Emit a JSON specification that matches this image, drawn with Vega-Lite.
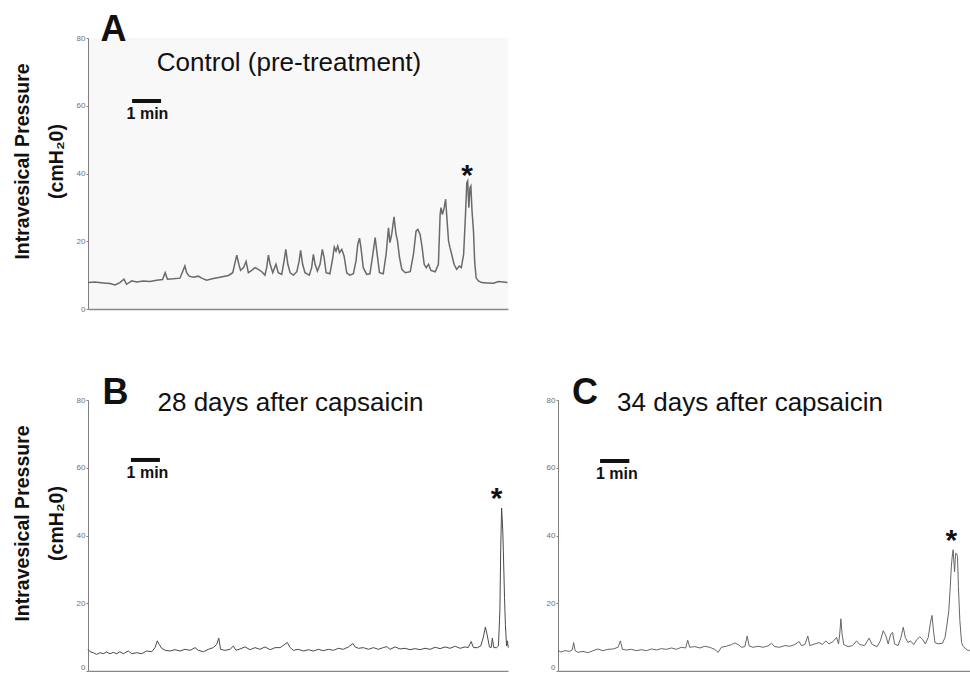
{
  "$schema": "https://vega.github.io/schema/vega-lite/v6.json",
  "padding": {"left": 12, "top": 12, "right": 0, "bottom": 0},
  "background": "white",
  "bounds": "flush",
  "spacing": 91,
  "config": {
    "font": "Liberation Sans",
    "view": {"stroke": null},
    "axis": {"grid": false, "domainColor": "#808080", "tickColor": "#808080", "labelColor": "#707070", "labelFontSize": 8, "labelFont": "Liberation Sans", "tickSize": 2, "labelPadding": 1, "titleFont": "Liberation Sans", "titleFontWeight": "bold", "titleColor": "#111111", "titleFontSize": 19.5},
    "text": {"font": "Liberation Sans", "color": "#111111"}
  },
  "datasets": {
    "traceA": [
      {"t":0.00,"p":7.8},{"t":0.24,"p":8.0},{"t":0.53,"p":7.7},{"t":0.76,"p":7.5},{"t":0.93,"p":7.1},{"t":1.10,"p":7.8},{"t":1.24,"p":8.8},{"t":1.33,"p":7.3},{"t":1.51,"p":8.3},{"t":1.68,"p":8.0},{"t":1.91,"p":8.3},{"t":2.14,"p":8.1},{"t":2.37,"p":8.5},{"t":2.57,"p":8.7},{"t":2.66,"p":10.7},{"t":2.74,"p":8.8},{"t":2.94,"p":8.9},{"t":3.17,"p":9.1},{"t":3.26,"p":11.0},{"t":3.34,"p":12.7},{"t":3.40,"p":10.7},{"t":3.49,"p":9.7},{"t":3.63,"p":9.4},{"t":3.80,"p":9.7},{"t":3.92,"p":9.1},{"t":4.09,"p":8.5},{"t":4.32,"p":9.0},{"t":4.55,"p":9.4},{"t":4.84,"p":9.9},{"t":4.99,"p":10.7},{"t":5.07,"p":13.7},{"t":5.13,"p":15.9},{"t":5.20,"p":13.2},{"t":5.26,"p":11.4},{"t":5.36,"p":12.2},{"t":5.45,"p":14.0},{"t":5.53,"p":10.7},{"t":5.64,"p":11.4},{"t":5.76,"p":12.2},{"t":5.87,"p":11.7},{"t":5.99,"p":11.0},{"t":6.10,"p":10.0},{"t":6.16,"p":12.2},{"t":6.22,"p":15.9},{"t":6.28,"p":13.2},{"t":6.37,"p":10.7},{"t":6.48,"p":13.2},{"t":6.56,"p":10.7},{"t":6.68,"p":10.2},{"t":6.76,"p":14.2},{"t":6.82,"p":17.6},{"t":6.89,"p":13.2},{"t":6.97,"p":10.7},{"t":7.08,"p":10.0},{"t":7.20,"p":11.0},{"t":7.28,"p":14.2},{"t":7.33,"p":17.3},{"t":7.40,"p":13.2},{"t":7.48,"p":10.7},{"t":7.63,"p":10.0},{"t":7.71,"p":12.2},{"t":7.77,"p":16.1},{"t":7.83,"p":13.2},{"t":7.91,"p":11.2},{"t":8.00,"p":13.2},{"t":8.08,"p":17.6},{"t":8.14,"p":15.2},{"t":8.21,"p":10.7},{"t":8.34,"p":10.4},{"t":8.44,"p":15.2},{"t":8.49,"p":18.3},{"t":8.55,"p":17.1},{"t":8.61,"p":18.6},{"t":8.67,"p":16.6},{"t":8.75,"p":17.6},{"t":8.83,"p":15.6},{"t":8.92,"p":10.7},{"t":9.03,"p":10.0},{"t":9.15,"p":10.4},{"t":9.24,"p":14.2},{"t":9.30,"p":19.1},{"t":9.36,"p":20.9},{"t":9.41,"p":18.1},{"t":9.49,"p":12.2},{"t":9.61,"p":10.2},{"t":9.72,"p":10.4},{"t":9.82,"p":16.1},{"t":9.90,"p":21.1},{"t":9.97,"p":16.1},{"t":10.05,"p":10.7},{"t":10.18,"p":10.4},{"t":10.28,"p":16.3},{"t":10.36,"p":24.0},{"t":10.41,"p":19.6},{"t":10.47,"p":22.0},{"t":10.55,"p":27.2},{"t":10.62,"p":22.0},{"t":10.67,"p":20.1},{"t":10.74,"p":15.2},{"t":10.82,"p":11.7},{"t":10.94,"p":10.7},{"t":11.11,"p":11.0},{"t":11.22,"p":16.1},{"t":11.31,"p":23.0},{"t":11.37,"p":23.5},{"t":11.45,"p":22.0},{"t":11.52,"p":18.1},{"t":11.59,"p":13.2},{"t":11.66,"p":12.2},{"t":11.74,"p":13.2},{"t":11.82,"p":11.4},{"t":11.97,"p":11.0},{"t":12.08,"p":13.2},{"t":12.14,"p":27.9},{"t":12.17,"p":29.9},{"t":12.22,"p":27.9},{"t":12.28,"p":29.9},{"t":12.33,"p":32.4},{"t":12.38,"p":26.0},{"t":12.43,"p":20.1},{"t":12.48,"p":18.1},{"t":12.54,"p":16.1},{"t":12.62,"p":13.2},{"t":12.71,"p":11.7},{"t":12.80,"p":12.7},{"t":12.87,"p":12.2},{"t":12.95,"p":16.1},{"t":13.01,"p":27.0},{"t":13.06,"p":37.3},{"t":13.09,"p":37.8},{"t":13.13,"p":29.9},{"t":13.17,"p":35.8},{"t":13.20,"p":36.3},{"t":13.24,"p":28.9},{"t":13.29,"p":23.0},{"t":13.33,"p":14.2},{"t":13.38,"p":9.2},{"t":13.46,"p":8.3},{"t":13.57,"p":7.8},{"t":13.75,"p":7.7},{"t":13.98,"p":7.6},{"t":14.15,"p":8.1},{"t":14.32,"p":8.0},{"t":14.46,"p":7.8}
    ],
    "traceB": [
      {"t":0.00,"p":6.4},{"t":0.07,"p":5.7},{"t":0.18,"p":5.4},{"t":0.30,"p":4.9},{"t":0.41,"p":5.4},{"t":0.53,"p":5.1},{"t":0.64,"p":5.6},{"t":0.76,"p":5.1},{"t":0.87,"p":5.5},{"t":0.99,"p":5.1},{"t":1.10,"p":5.7},{"t":1.22,"p":5.1},{"t":1.39,"p":5.9},{"t":1.51,"p":5.1},{"t":1.68,"p":5.4},{"t":1.85,"p":5.1},{"t":2.02,"p":5.9},{"t":2.20,"p":5.7},{"t":2.31,"p":6.9},{"t":2.39,"p":8.9},{"t":2.45,"p":7.9},{"t":2.54,"p":6.7},{"t":2.66,"p":6.1},{"t":2.83,"p":5.9},{"t":3.00,"p":6.3},{"t":3.17,"p":5.9},{"t":3.34,"p":6.4},{"t":3.52,"p":6.1},{"t":3.69,"p":6.9},{"t":3.80,"p":6.1},{"t":3.98,"p":5.7},{"t":4.15,"p":6.4},{"t":4.32,"p":6.9},{"t":4.44,"p":7.9},{"t":4.51,"p":9.7},{"t":4.57,"p":6.4},{"t":4.72,"p":6.1},{"t":4.90,"p":6.4},{"t":5.01,"p":7.4},{"t":5.10,"p":6.1},{"t":5.24,"p":6.5},{"t":5.41,"p":7.1},{"t":5.59,"p":6.3},{"t":5.76,"p":6.9},{"t":5.93,"p":6.4},{"t":6.10,"p":7.1},{"t":6.28,"p":6.3},{"t":6.45,"p":6.9},{"t":6.62,"p":6.9},{"t":6.71,"p":7.4},{"t":6.87,"p":8.4},{"t":6.97,"p":6.9},{"t":7.08,"p":6.1},{"t":7.25,"p":6.4},{"t":7.43,"p":5.9},{"t":7.60,"p":6.3},{"t":7.77,"p":5.9},{"t":7.94,"p":6.4},{"t":8.11,"p":6.0},{"t":8.29,"p":6.4},{"t":8.46,"p":6.1},{"t":8.63,"p":6.7},{"t":8.80,"p":6.4},{"t":8.98,"p":7.1},{"t":9.13,"p":8.1},{"t":9.21,"p":7.1},{"t":9.32,"p":6.7},{"t":9.49,"p":6.9},{"t":9.67,"p":6.4},{"t":9.84,"p":6.9},{"t":10.01,"p":6.4},{"t":10.18,"p":6.9},{"t":10.30,"p":7.2},{"t":10.41,"p":6.4},{"t":10.59,"p":7.1},{"t":10.76,"p":6.5},{"t":10.93,"p":6.7},{"t":11.10,"p":6.3},{"t":11.28,"p":6.6},{"t":11.45,"p":6.3},{"t":11.62,"p":6.7},{"t":11.79,"p":6.4},{"t":11.97,"p":7.0},{"t":12.14,"p":6.6},{"t":12.31,"p":7.1},{"t":12.48,"p":6.7},{"t":12.66,"p":7.3},{"t":12.83,"p":6.7},{"t":13.00,"p":7.1},{"t":13.11,"p":6.9},{"t":13.21,"p":8.7},{"t":13.29,"p":6.9},{"t":13.43,"p":6.9},{"t":13.54,"p":7.4},{"t":13.63,"p":10.0},{"t":13.70,"p":13.0},{"t":13.77,"p":10.3},{"t":13.84,"p":7.1},{"t":13.90,"p":6.9},{"t":13.94,"p":9.7},{"t":13.99,"p":6.9},{"t":14.09,"p":6.9},{"t":14.15,"p":7.4},{"t":14.20,"p":17.7},{"t":14.23,"p":36.4},{"t":14.26,"p":48.1},{"t":14.30,"p":41.4},{"t":14.32,"p":35.5},{"t":14.36,"p":21.7},{"t":14.39,"p":13.8},{"t":14.43,"p":7.4},{"t":14.46,"p":8.9},{"t":14.49,"p":6.9}
    ],
    "traceC": [
      {"t":0.00,"p":6.0},{"t":0.11,"p":5.6},{"t":0.23,"p":6.0},{"t":0.40,"p":5.8},{"t":0.49,"p":6.2},{"t":0.54,"p":8.4},{"t":0.59,"p":6.0},{"t":0.69,"p":5.5},{"t":0.86,"p":5.8},{"t":1.03,"p":5.4},{"t":1.21,"p":6.0},{"t":1.38,"p":6.5},{"t":1.55,"p":6.0},{"t":1.72,"p":6.4},{"t":1.90,"p":6.5},{"t":2.07,"p":7.0},{"t":2.15,"p":8.9},{"t":2.22,"p":6.4},{"t":2.36,"p":6.2},{"t":2.53,"p":6.4},{"t":2.70,"p":6.0},{"t":2.87,"p":6.3},{"t":3.05,"p":6.0},{"t":3.22,"p":6.5},{"t":3.39,"p":6.2},{"t":3.56,"p":6.6},{"t":3.74,"p":6.4},{"t":3.91,"p":6.8},{"t":4.08,"p":6.4},{"t":4.25,"p":7.0},{"t":4.40,"p":6.8},{"t":4.47,"p":9.1},{"t":4.54,"p":7.0},{"t":4.71,"p":7.2},{"t":4.89,"p":6.8},{"t":5.06,"p":7.3},{"t":5.23,"p":7.0},{"t":5.40,"p":6.4},{"t":5.52,"p":5.5},{"t":5.63,"p":7.0},{"t":5.80,"p":7.3},{"t":5.98,"p":7.8},{"t":6.09,"p":8.3},{"t":6.21,"p":7.8},{"t":6.32,"p":7.0},{"t":6.44,"p":7.2},{"t":6.52,"p":10.3},{"t":6.59,"p":7.4},{"t":6.72,"p":7.0},{"t":6.90,"p":7.3},{"t":7.07,"p":7.0},{"t":7.24,"p":7.4},{"t":7.36,"p":8.2},{"t":7.47,"p":7.2},{"t":7.64,"p":7.0},{"t":7.82,"p":7.5},{"t":7.99,"p":7.3},{"t":8.16,"p":7.8},{"t":8.31,"p":8.7},{"t":8.39,"p":7.5},{"t":8.51,"p":7.8},{"t":8.61,"p":10.3},{"t":8.68,"p":7.5},{"t":8.85,"p":8.0},{"t":9.00,"p":8.4},{"t":9.11,"p":7.8},{"t":9.23,"p":8.9},{"t":9.34,"p":8.0},{"t":9.48,"p":8.7},{"t":9.60,"p":9.9},{"t":9.67,"p":8.0},{"t":9.71,"p":10.9},{"t":9.75,"p":15.4},{"t":9.79,"p":10.9},{"t":9.85,"p":7.8},{"t":10.00,"p":7.2},{"t":10.15,"p":7.5},{"t":10.29,"p":8.9},{"t":10.40,"p":7.8},{"t":10.57,"p":7.5},{"t":10.72,"p":9.7},{"t":10.83,"p":7.8},{"t":11.00,"p":7.2},{"t":11.11,"p":8.9},{"t":11.21,"p":11.9},{"t":11.30,"p":10.4},{"t":11.38,"p":8.0},{"t":11.47,"p":10.9},{"t":11.53,"p":11.4},{"t":11.60,"p":8.0},{"t":11.72,"p":7.5},{"t":11.82,"p":9.9},{"t":11.90,"p":12.9},{"t":11.97,"p":9.9},{"t":12.06,"p":8.4},{"t":12.15,"p":8.9},{"t":12.26,"p":7.8},{"t":12.38,"p":9.4},{"t":12.47,"p":10.1},{"t":12.56,"p":9.4},{"t":12.66,"p":8.0},{"t":12.76,"p":9.9},{"t":12.84,"p":14.4},{"t":12.89,"p":16.4},{"t":12.93,"p":12.9},{"t":12.99,"p":8.4},{"t":13.10,"p":8.0},{"t":13.25,"p":8.2},{"t":13.34,"p":9.9},{"t":13.41,"p":13.9},{"t":13.47,"p":17.9},{"t":13.52,"p":24.9},{"t":13.56,"p":31.3},{"t":13.60,"p":34.8},{"t":13.62,"p":35.8},{"t":13.64,"p":32.8},{"t":13.67,"p":29.3},{"t":13.69,"p":32.8},{"t":13.71,"p":34.8},{"t":13.74,"p":34.6},{"t":13.77,"p":33.8},{"t":13.80,"p":24.9},{"t":13.85,"p":14.9},{"t":13.91,"p":8.4},{"t":13.97,"p":7.2},{"t":14.06,"p":6.5},{"t":14.14,"p":6.0},{"t":14.20,"p":6.2}
    ],
    "notes": [
      {"panel":"A","role":"letter","t":0.88,"p":79.1,"label":"A"},
      {"panel":"A","role":"title","t":6.93,"p":70.3,"label":"Control (pre-treatment)"},
      {"panel":"A","role":"bar","t":1.52,"t2":2.52,"p":61.4},
      {"panel":"A","role":"barlabel","t":2.05,"p":56.1,"label":"1 min"},
      {"panel":"A","role":"star","t":13.07,"p":36.6,"label":"*"},
      {"panel":"B","role":"letter","t":0.95,"p":78.8,"label":"B"},
      {"panel":"B","role":"title","t":6.98,"p":76.8,"label":"28 days after capsaicin"},
      {"panel":"B","role":"bar","t":1.48,"t2":2.48,"p":62.3},
      {"panel":"B","role":"barlabel","t":2.05,"p":57.1,"label":"1 min"},
      {"panel":"B","role":"star","t":14.09,"p":48.1,"label":"*"},
      {"panel":"C","role":"letter","t":0.93,"p":78.7,"label":"C"},
      {"panel":"C","role":"title","t":6.62,"p":76.8,"label":"34 days after capsaicin"},
      {"panel":"C","role":"bar","t":1.45,"t2":2.46,"p":62.0},
      {"panel":"C","role":"barlabel","t":2.03,"p":56.6,"label":"1 min"},
      {"panel":"C","role":"star","t":13.56,"p":35.8,"label":"*"}
    ]
  },
  "vconcat": [
    {
      "width": 420, "height": 271,
      "view": {"fill": "#f8f8f8", "stroke": null},
      "layer": [
        {"data": {"name": "traceA"}, "mark": {"type": "line", "color": "#6a6a6a", "strokeWidth": 1.5},
         "encoding": {
           "x": {"field": "t", "type": "quantitative", "scale": {"domain": [0, 14.48], "nice": false, "zero": false}, "axis": {"labels": false, "ticks": false, "title": null, "domainWidth": 1.5, "domainColor": "#888888"}},
           "y": {"field": "p", "type": "quantitative", "scale": {"domain": [0, 80], "nice": false}, "axis": {"values": [0,10,20,30,40,50,60,70,80], "labelExpr": "datum.value % 20 == 0 ? datum.label : ''", "title": ["Intravesical Pressure", "(cmH₂0)"], "titlePadding": 10, "titleLineHeight": 34, "titleY": 123}}
         }},
        {"data": {"name": "notes"}, "transform": [{"filter": "datum.panel == 'A' && datum.role == 'bar'"}], "mark": {"type": "rule", "strokeWidth": 4, "color": "#111111"},
         "encoding": {"x": {"field": "t", "type": "quantitative"}, "x2": {"field": "t2"}, "y": {"field": "p", "type": "quantitative"}}},
        {"data": {"name": "notes"}, "transform": [{"filter": "datum.panel == 'A' && datum.role == 'letter'"}], "mark": {"type": "text", "fontSize": 36, "fontWeight": "bold", "align": "center", "baseline": "alphabetic"},
         "encoding": {"x": {"field": "t", "type": "quantitative"}, "y": {"field": "p", "type": "quantitative"}, "text": {"field": "label"}}},
        {"data": {"name": "notes"}, "transform": [{"filter": "datum.panel == 'A' && datum.role == 'title'"}], "mark": {"type": "text", "fontSize": 26, "align": "center", "baseline": "alphabetic"},
         "encoding": {"x": {"field": "t", "type": "quantitative"}, "y": {"field": "p", "type": "quantitative"}, "text": {"field": "label"}}},
        {"data": {"name": "notes"}, "transform": [{"filter": "datum.panel == 'A' && datum.role == 'barlabel'"}], "mark": {"type": "text", "fontSize": 16, "fontWeight": "bold", "align": "center", "baseline": "alphabetic"},
         "encoding": {"x": {"field": "t", "type": "quantitative"}, "y": {"field": "p", "type": "quantitative"}, "text": {"field": "label"}}},
        {"data": {"name": "notes"}, "transform": [{"filter": "datum.panel == 'A' && datum.role == 'star'"}], "mark": {"type": "text", "fontSize": 30, "fontWeight": "bold", "align": "center", "baseline": "alphabetic"},
         "encoding": {"x": {"field": "t", "type": "quantitative"}, "y": {"field": "p", "type": "quantitative"}, "text": {"field": "label"}}}
      ]
    },
    {
      "hconcat": [
        {
          "width": 420, "height": 271,
          "layer": [
            {"data": {"name": "traceB"}, "mark": {"type": "line", "color": "#4a4a4a", "strokeWidth": 1},
             "encoding": {
               "x": {"field": "t", "type": "quantitative", "scale": {"domain": [0, 14.48], "nice": false, "zero": false}, "axis": {"labels": false, "ticks": false, "title": null, "domainWidth": 1.5, "domainColor": "#888888"}},
               "y": {"field": "p", "type": "quantitative", "scale": {"domain": [0, 80], "nice": false}, "axis": {"values": [0,10,20,30,40,50,60,70,80], "labelExpr": "datum.value % 20 == 0 ? datum.label : ''", "labelBaseline": {"condition": {"test": "datum.value == 0", "value": "bottom"}, "value": "middle"}, "title": ["Intravesical Pressure", "(cmH₂0)"], "titlePadding": 10, "titleLineHeight": 34, "titleY": 123}}
             }},
            {"data": {"name": "notes"}, "transform": [{"filter": "datum.panel == 'B' && datum.role == 'bar'"}], "mark": {"type": "rule", "strokeWidth": 4, "color": "#111111"},
             "encoding": {"x": {"field": "t", "type": "quantitative"}, "x2": {"field": "t2"}, "y": {"field": "p", "type": "quantitative"}}},
            {"data": {"name": "notes"}, "transform": [{"filter": "datum.panel == 'B' && datum.role == 'letter'"}], "mark": {"type": "text", "fontSize": 36, "fontWeight": "bold", "align": "center", "baseline": "alphabetic"},
             "encoding": {"x": {"field": "t", "type": "quantitative"}, "y": {"field": "p", "type": "quantitative"}, "text": {"field": "label"}}},
            {"data": {"name": "notes"}, "transform": [{"filter": "datum.panel == 'B' && datum.role == 'title'"}], "mark": {"type": "text", "fontSize": 26, "align": "center", "baseline": "alphabetic"},
             "encoding": {"x": {"field": "t", "type": "quantitative"}, "y": {"field": "p", "type": "quantitative"}, "text": {"field": "label"}}},
            {"data": {"name": "notes"}, "transform": [{"filter": "datum.panel == 'B' && datum.role == 'barlabel'"}], "mark": {"type": "text", "fontSize": 16, "fontWeight": "bold", "align": "center", "baseline": "alphabetic"},
             "encoding": {"x": {"field": "t", "type": "quantitative"}, "y": {"field": "p", "type": "quantitative"}, "text": {"field": "label"}}},
            {"data": {"name": "notes"}, "transform": [{"filter": "datum.panel == 'B' && datum.role == 'star'"}], "mark": {"type": "text", "fontSize": 30, "fontWeight": "bold", "align": "center", "baseline": "alphabetic"},
             "encoding": {"x": {"field": "t", "type": "quantitative"}, "y": {"field": "p", "type": "quantitative"}, "text": {"field": "label"}}}
          ]
        },
        {
          "width": 412, "height": 271,
          "layer": [
            {"data": {"name": "traceC"}, "mark": {"type": "line", "color": "#666666", "strokeWidth": 1},
             "encoding": {
               "x": {"field": "t", "type": "quantitative", "scale": {"domain": [0, 14.2], "nice": false, "zero": false}, "axis": {"labels": false, "ticks": false, "title": null, "domainWidth": 1.5, "domainColor": "#888888"}},
               "y": {"field": "p", "type": "quantitative", "scale": {"domain": [0, 80], "nice": false}, "axis": {"values": [0,10,20,30,40,50,60,70,80], "labelExpr": "datum.value % 20 == 0 ? datum.label : ''", "labelBaseline": {"condition": {"test": "datum.value == 0", "value": "bottom"}, "value": "middle"}, "title": null}}
             }},
            {"data": {"name": "notes"}, "transform": [{"filter": "datum.panel == 'C' && datum.role == 'bar'"}], "mark": {"type": "rule", "strokeWidth": 4, "color": "#111111"},
             "encoding": {"x": {"field": "t", "type": "quantitative"}, "x2": {"field": "t2"}, "y": {"field": "p", "type": "quantitative"}}},
            {"data": {"name": "notes"}, "transform": [{"filter": "datum.panel == 'C' && datum.role == 'letter'"}], "mark": {"type": "text", "fontSize": 36, "fontWeight": "bold", "align": "center", "baseline": "alphabetic"},
             "encoding": {"x": {"field": "t", "type": "quantitative"}, "y": {"field": "p", "type": "quantitative"}, "text": {"field": "label"}}},
            {"data": {"name": "notes"}, "transform": [{"filter": "datum.panel == 'C' && datum.role == 'title'"}], "mark": {"type": "text", "fontSize": 26, "align": "center", "baseline": "alphabetic"},
             "encoding": {"x": {"field": "t", "type": "quantitative"}, "y": {"field": "p", "type": "quantitative"}, "text": {"field": "label"}}},
            {"data": {"name": "notes"}, "transform": [{"filter": "datum.panel == 'C' && datum.role == 'barlabel'"}], "mark": {"type": "text", "fontSize": 16, "fontWeight": "bold", "align": "center", "baseline": "alphabetic"},
             "encoding": {"x": {"field": "t", "type": "quantitative"}, "y": {"field": "p", "type": "quantitative"}, "text": {"field": "label"}}},
            {"data": {"name": "notes"}, "transform": [{"filter": "datum.panel == 'C' && datum.role == 'star'"}], "mark": {"type": "text", "fontSize": 30, "fontWeight": "bold", "align": "center", "baseline": "alphabetic"},
             "encoding": {"x": {"field": "t", "type": "quantitative"}, "y": {"field": "p", "type": "quantitative"}, "text": {"field": "label"}}}
          ]
        }
      ],
      "spacing": 50,
      "bounds": "flush"
    }
  ]
}
